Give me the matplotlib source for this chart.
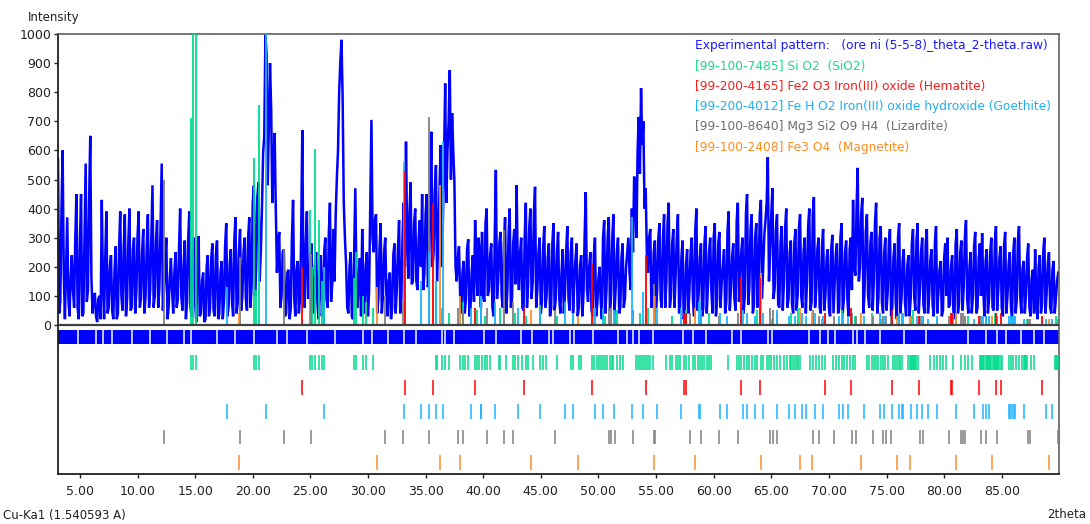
import numpy as np
import matplotlib
matplotlib.use('Agg')
import matplotlib.pyplot as plt

# Experimental pattern, 2theta from 3.1 deg in 0.1 deg steps.
# counts_a holds the points at 3.1, 3.3, 3.5 ... and counts_b the ones in between (3.2, 3.4 ...)
scan_start = 3.1
scan_step = 0.1
counts_a = [
    570, 80, 600, 20, 370, 30, 240, 60, 450, 20,
    450, 40, 555, 120, 650, 40, 110, 10, 100, 430,
    20, 390, 60, 240, 20, 270, 40, 390, 50, 380,
    90, 400, 60, 300, 110, 390, 90, 330, 100, 380,
    120, 480, 100, 360, 130, 555, 120, 300, 60, 230,
    40, 250, 90, 400, 50, 290, 80, 390, 30, 300,
    10, 305, 40, 180, 20, 240, 60, 280, 30, 290,
    40, 220, 80, 350, 60, 260, 30, 370, 80, 330,
    100, 300, 50, 370, 130, 480, 200, 490, 250, 590,
    1000, 480, 900, 420, 660, 180, 320, 100, 260, 40,
    190, 60, 430, 30, 220, 90, 670, 60, 390, 120,
    280, 40, 250, 20, 240, 100, 300, 60, 420, 140,
    150, 505, 800, 980, 420, 210, 40, 250, 20, 470,
    60, 230, 330, 40, 250, 120, 705, 250, 380, 90,
    350, 100, 300, 30, 180, 60, 280, 120, 360, 90,
    420, 630, 160, 490, 150, 400, 120, 360, 450, 180,
    450, 200, 664, 250, 550, 300, 618, 350, 830, 600,
    876, 728, 495, 150, 270, 40, 220, 90, 295, 60,
    240, 360, 100, 250, 320, 80, 400, 120, 280, 30,
    533, 150, 320, 60, 370, 120, 400, 90, 330, 480,
    120, 300, 50, 420, 140, 400, 150, 475, 120, 300,
    80, 340, 100, 280, 60, 350, 90, 320, 40, 260,
    110, 340, 50, 300, 140, 280, 60, 240, 100, 457,
    80, 250, 30, 300, 70, 200, 20, 360, 120, 371,
    100, 380, 130, 300, 60, 280, 90, 250, 180, 400,
    510, 300, 715, 814, 700, 470, 180, 330, 80, 290,
    120, 350, 60, 380, 150, 420, 100, 330, 170, 380,
    70, 290, 40, 260, 120, 300, 30, 400, 110, 280,
    60, 340, 130, 300, 40, 350, 90, 320, 150, 260,
    80, 390, 120, 280, 50, 420, 170, 300, 100, 450,
    130, 380, 70, 350, 160, 430, 200, 360, 577, 250,
    470, 130, 380, 60, 340, 150, 400, 90, 290, 40,
    330, 110, 380, 60, 300, 150, 400, 80, 440, 120,
    300, 40, 330, 100, 260, 30, 310, 140, 280, 60,
    350, 90, 290, 30, 300, 430, 170, 540, 200, 437,
    120, 380, 60, 320, 150, 420, 90, 340, 40, 300,
    110, 330, 60, 280, 20, 350, 90, 260, 30, 240,
    90, 330, 50, 350, 120, 300, 40, 330, 100, 260,
    30, 340, 110, 220, 50, 280, 300, 70, 240, 20,
    330, 80, 290, 130, 360, 40, 250, 100, 320, 60,
    280, 316, 30, 260, 90, 300, 50, 340, 120, 270,
    30, 320, 100, 250, 20, 300, 80, 340, 40, 220,
    100, 280, 30, 190, 260, 20, 240, 70, 300, 110,
    250, 40, 220, 90, 180,
]
counts_b = [
    40, 390, 180, 200, 90, 160, 120, 300, 60, 280,
    30, 300, 80, 430, 160, 100, 30, 90, 20, 150,
    230, 40, 200, 50, 180, 20, 260, 100, 260, 30,
    280, 50, 260, 40, 300, 60, 250, 40, 270, 60,
    300, 60, 290, 60, 350, 50, 220, 20, 160, 120,
    180, 60, 260, 100, 200, 20, 300, 60, 220, 80,
    200, 30, 150, 10, 200, 30, 230, 50, 240, 20,
    180, 20, 270, 30, 210, 80, 290, 40, 250, 50,
    250, 90, 300, 60, 420, 100, 440, 150, 400, 650,
    930, 700, 740, 560, 400, 280, 60, 250, 30, 180,
    20, 300, 90, 190, 40, 300, 150, 280, 90, 240,
    60, 200, 90, 180, 30, 250, 90, 310, 80, 330,
    380, 600, 903, 785, 300, 60, 200, 30, 250, 150,
    170, 30, 110, 200, 30, 400, 300, 360, 40, 260,
    40, 250, 100, 150, 20, 240, 40, 260, 40, 300,
    200, 300, 380, 140, 350, 150, 300, 200, 120, 380,
    130, 420, 200, 460, 150, 450, 200, 560, 420, 700,
    500, 600, 200, 230, 100, 180, 40, 260, 30, 180,
    80, 200, 300, 60, 100, 350, 100, 240, 60, 300,
    90, 280, 100, 280, 40, 310, 60, 280, 140, 200,
    250, 60, 300, 60, 340, 90, 380, 60, 250, 40,
    260, 60, 230, 30, 280, 50, 250, 90, 180, 40,
    250, 90, 250, 40, 220, 30, 200, 30, 300, 120,
    200, 50, 240, 30, 160, 80, 300, 40, 300, 50,
    300, 40, 250, 40, 230, 60, 200, 300, 120, 250,
    450, 600, 520, 620, 400, 250, 300, 60, 250, 60,
    300, 90, 300, 60, 350, 60, 280, 60, 300, 40,
    230, 20, 210, 40, 250, 90, 320, 50, 230, 30,
    280, 40, 250, 120, 300, 30, 280, 60, 200, 40,
    320, 50, 230, 90, 360, 80, 250, 40, 380, 70,
    330, 40, 300, 60, 380, 90, 310, 420, 150, 380,
    90, 330, 70, 280, 50, 330, 60, 250, 70, 280,
    50, 330, 100, 250, 40, 340, 50, 380, 60, 260,
    60, 270, 50, 230, 60, 260, 40, 240, 40, 300,
    40, 250, 90, 260, 120, 200, 400, 150, 380, 40,
    320, 100, 280, 50, 350, 40, 300, 80, 250, 50,
    280, 30, 230, 80, 300, 40, 220, 80, 200, 30,
    280, 100, 290, 40, 250, 70, 280, 40, 220, 70,
    280, 40, 190, 30, 230, 100, 60, 200, 50, 280,
    40, 250, 50, 300, 90, 200, 40, 270, 40, 230,
    100, 120, 220, 40, 250, 60, 280, 50, 230, 60,
    270, 40, 210, 60, 250, 40, 290, 100, 190, 40,
    230, 60, 160, 40, 80, 200, 40, 250, 40, 210,
    60, 190, 40, 150,
]

# white separators in the experimental peak band
band_gaps = [4.80, 6.36, 6.97, 7.75, 9.51, 11.08, 12.53, 14.05, 14.61, 16.89, 18.45, 20.10,
             22.10, 22.97, 24.70, 27.14, 29.54, 30.37, 31.78, 33.15, 34.20, 36.40, 36.70, 37.50,
             40.10, 41.10, 43.30, 44.20, 45.70, 46.10, 47.50, 47.90, 49.50, 51.70, 52.50, 53.00,
             53.50, 54.70, 57.30, 58.20, 59.30, 61.60, 62.40, 64.70, 65.10, 68.30, 69.20, 69.90,
             70.50, 72.10, 72.40, 73.10, 74.40, 76.50, 78.40, 82.10, 83.60, 84.60, 85.40, 86.70,
             87.80, 88.70]

# Si O2 reference
sio2_pos = [14.64, 14.83, 15.04, 20.10, 20.28, 20.54, 24.99, 25.16, 25.40, 25.75, 25.98, 26.21,
            28.78, 28.96, 29.60, 29.83, 30.40,
            35.88, 36.02, 36.40, 36.68, 37.03, 37.99, 38.22, 38.42, 38.71, 39.26, 39.46, 39.66,
            39.90, 40.12, 40.33, 40.62, 41.40, 41.50, 41.98, 42.56, 42.76, 43.05, 43.34, 43.72,
            43.92, 44.30, 44.93, 45.22, 45.45, 46.43, 47.60, 47.82, 48.34, 48.46,
            49.47, 49.62, 49.85, 50.02, 50.20, 50.37, 50.57, 50.77, 51.00, 51.15, 51.29, 51.58,
            51.87, 52.16, 53.25, 53.45, 53.60, 53.80, 53.95, 54.10, 54.30, 54.50, 54.70,
            55.90, 56.20, 56.40, 56.70, 56.90, 57.10, 57.40, 57.60, 57.90, 58.20, 58.40, 58.60,
            58.80, 59.00, 59.20, 59.40, 59.60, 59.80, 61.28, 62.00, 62.20, 62.40, 62.60, 62.90,
            63.10, 63.30, 63.60, 63.80, 64.10, 64.30, 64.60, 64.80, 64.95, 65.20, 65.50, 65.80,
            66.10, 66.40, 66.60, 66.75, 66.90, 67.05, 67.20, 67.35, 67.50, 68.40, 68.60, 68.85,
            69.10, 69.40, 69.70, 70.40, 70.60, 70.85, 71.10, 71.30, 71.55, 71.80, 72.05, 72.30,
            73.30, 73.50, 73.70, 73.90, 74.10, 74.30, 74.50, 74.70, 74.90, 75.10, 75.60, 75.75,
            75.90, 76.05, 76.20, 76.35, 76.90, 77.00, 77.10, 77.20, 77.30, 77.40, 77.50, 77.60,
            77.70, 78.80, 79.10, 79.40, 79.60, 79.90, 80.20, 80.80, 81.50, 81.80, 82.10, 82.40,
            83.10, 83.20, 83.30, 83.40, 83.50, 83.60, 83.70, 83.80, 83.90, 84.00, 84.10, 84.20,
            84.30, 84.40, 84.50, 84.60, 84.70, 84.80, 84.90, 85.00, 85.60, 85.80, 86.00, 86.20,
            86.50, 86.80, 86.90, 87.00, 87.10, 87.20, 87.50, 87.80, 89.60, 89.70, 89.80, 89.90]
sio2_top_pos = [14.64, 14.83, 15.04, 20.10, 20.28, 20.54, 24.99, 25.16, 25.40, 25.75, 25.98, 26.21,
                28.78, 28.96, 29.60, 29.83, 30.40, 35.88, 36.40, 37.03, 38.22, 39.46, 40.12, 41.50,
                42.76, 43.72, 44.93, 46.43, 47.82, 49.62, 50.57, 51.58, 53.60, 54.30, 56.40, 57.60,
                58.80, 59.60, 62.40, 63.80, 65.10, 66.75, 67.35, 68.60, 69.40, 71.10, 72.30, 73.70,
                74.50, 76.05, 77.30, 79.40, 80.80, 82.10, 83.60, 84.40, 86.00, 87.20, 89.70]
sio2_top_int = [710, 1050, 1050, 575, 120, 755, 395, 200, 605, 360, 150, 90,
                160, 250, 100, 80, 60, 130, 60, 40, 80, 50, 30, 60,
                40, 30, 70, 30, 40, 60, 30, 50, 40, 60, 30, 50,
                20, 40, 30, 50, 20, 40, 60, 30, 20, 50, 30, 40,
                20, 30, 50, 20, 40, 30, 20, 40, 30, 20, 30]

# Fe2 O3 (Hematite)
hem_pos = [24.24, 33.20, 35.67, 39.26, 43.50, 49.47, 54.10, 57.46, 57.58, 62.40, 64.00, 69.70,
           71.90, 75.46, 77.83, 80.57, 80.70, 83.04, 84.46, 84.92, 88.50]
hem_int = [200, 530, 420, 60, 60, 210, 240, 40, 40, 165, 160, 40,
           60, 50, 30, 40, 40, 30, 40, 40, 30]

# Fe H O2 (Goethite)
goe_pos = [17.76, 21.12, 26.21, 33.13, 34.58, 35.33, 35.88, 36.54, 38.90, 39.78, 39.84, 41.03,
           43.00, 44.93, 47.10, 47.76, 49.70, 50.37, 51.35, 52.90, 53.90, 55.10, 57.14, 58.76,
           58.84, 60.56, 61.13, 62.57, 62.87, 63.59, 64.26, 65.47, 66.57, 67.06, 67.64, 67.99,
           68.80, 69.47, 70.89, 71.26, 71.70, 73.06, 74.44, 74.79, 75.46, 76.12, 76.32, 76.46,
           77.10, 77.62, 78.11, 78.63, 79.36, 81.04, 82.60, 83.36, 83.65, 83.93, 85.60, 85.75,
           85.90, 86.05, 86.17, 86.90, 88.80, 89.35]
goe_int = [130, 1050, 200, 560, 150, 250, 150, 630, 60, 100, 100, 80,
           60, 50, 80, 40, 60, 60, 50, 370, 115, 60, 60, 80,
           80, 40, 30, 50, 40, 30, 40, 50, 30, 30, 40, 30,
           40, 30, 30, 40, 30, 30, 40, 30, 30, 40, 40, 40,
           30, 30, 30, 20, 30, 30, 20, 30, 30, 30, 30, 30,
           30, 30, 30, 20, 20, 20]

# Mg3 Si2 O9 H4 (Lizardite)
liz_pos = [12.32, 18.89, 22.68, 25.02, 31.45, 33.00, 35.33, 37.79, 38.27, 40.33, 41.80, 42.56,
           46.22, 50.94, 51.09, 51.44, 53.03, 54.80, 54.88, 57.95, 58.90, 60.44, 62.08, 64.90,
           65.18, 65.47, 68.60, 69.15, 70.45, 71.98, 72.36, 73.81, 74.68, 74.94, 75.37, 77.92,
           78.20, 80.46, 81.44, 81.62, 81.79, 83.20, 83.62, 84.60, 87.26, 87.47, 89.84]
liz_int = [500, 235, 260, 245, 100, 80, 716, 60, 50, 60, 326, 80,
           50, 60, 60, 50, 50, 140, 100, 40, 50, 30, 40, 60,
           50, 40, 50, 30, 30, 40, 30, 30, 30, 30, 30, 30,
           30, 30, 40, 40, 30, 30, 30, 30, 20, 20, 20]

# Fe3 O4 (Magnetite)
mag_pos = [18.80, 30.75, 36.25, 37.99, 44.15, 48.26, 54.83, 58.40, 64.10, 67.50, 68.57, 72.80,
           75.90, 77.05, 81.04, 84.14, 89.14]
mag_int = [40, 130, 480, 100, 50, 30, 100, 60, 180, 60, 40, 40, 30, 30, 40, 30, 20]

legend_lines = [
    ('Experimental pattern:   (ore ni (5-5-8)_theta_2-theta.raw)', '#1a1aff'),
    ('[99-100-7485] Si O2  (SiO2)', '#1ed88c'),
    ('[99-200-4165] Fe2 O3 Iron(III) oxide (Hematite)', '#ff1a1a'),
    ('[99-200-4012] Fe H O2 Iron(III) oxide hydroxide (Goethite)', '#1eb0f0'),
    ('[99-100-8640] Mg3 Si2 O9 H4  (Lizardite)', '#6e6e6e'),
    ('[99-100-2408] Fe3 O4  (Magnetite)', '#ff8c1e'),
]

blue = '#0000ff'
green = '#00dc8c'
red = '#ff0000'
cyan = '#1eb4ff'
gray = '#808080'
orange = '#ff8c28'

plt.rcParams['font.family'] = ['DejaVu Sans']

W, H = 1090, 524
fig = plt.figure(figsize=(W / 100, H / 100), dpi=100)
ax = fig.add_axes([58 / W, 1 - 474 / H, 1001 / W, 440 / H])

x_min, x_max = 3.1, 89.97
counts = np.empty(len(counts_a) + len(counts_b))
counts[0::2] = counts_a
counts[1::2] = counts_b
two_theta = scan_start + scan_step * np.arange(len(counts))

# upper panel: measured pattern + reference sticks
ax.plot(two_theta, counts, color=blue, lw=1.8, zorder=2, solid_joinstyle='miter')
ax.vlines(sio2_top_pos, 0, sio2_top_int, color=green, lw=1.3, zorder=3)
ax.vlines(liz_pos, 0, liz_int, color=gray, lw=1.3, zorder=3)
ax.vlines(goe_pos, 0, goe_int, color=cyan, lw=1.3, zorder=3)
ax.vlines(mag_pos, 0, mag_int, color=orange, lw=1.3, zorder=3)
ax.vlines(hem_pos, 0, hem_int, color=red, lw=1.3, zorder=3)

# lower panel: peak markers
ax.fill_between([x_min, x_max], -17, -65, color=blue, lw=0, zorder=2)
ax.vlines(band_gaps, -65, -17, color='#dfe6ff', lw=1.2, zorder=3)
rows = [(sio2_pos, green, -103, -155), (hem_pos, red, -189, -241), (goe_pos, cyan, -271, -323),
        (liz_pos, gray, -361, -409), (mag_pos, orange, -447, -498)]
for pos, c, y0, y1 in rows:
    ax.vlines(pos, y1, y0, color=c, lw=1.1, zorder=3)

ax.axhline(0, color='#404040', lw=1.6, zorder=4)
ax.set_xlim(x_min, x_max)
ax.set_ylim(-512, 1000)
ax.set_yticks(np.arange(0, 1001, 100))
ax.set_xticks(np.arange(5, 86, 5))
ax.set_xticklabels(['%.2f' % v for v in np.arange(5, 86, 5)])
ax.tick_params(labelsize=9, length=3, width=1, colors='#202020', pad=2)
ax.tick_params(axis='x', pad=5)
for s in ['left', 'bottom']:
    ax.spines[s].set_color('#202020')
    ax.spines[s].set_linewidth(1.3)
for s in ['top', 'right']:
    ax.spines[s].set_color('#606060')
    ax.spines[s].set_linewidth(1.2)

for i, (txt, c) in enumerate(legend_lines):
    fig.text(695 / W, 1 - (46 + 20.2 * i) / H, txt, color=c, fontsize=8.8, va='center', ha='left')

fig.text(28 / W, 1 - 18 / H, 'Intensity', fontsize=8.5, va='center', ha='left', color='#202020')
fig.text(3 / W, 1 - 515 / H, 'Cu-Ka1 (1.540593 A)', fontsize=8.5, va='center', ha='left', color='#202020')
fig.text(1086 / W, 1 - 515 / H, '2theta', fontsize=8.5, va='center', ha='right', color='#202020')

fig.savefig('out.png', dpi=100)
